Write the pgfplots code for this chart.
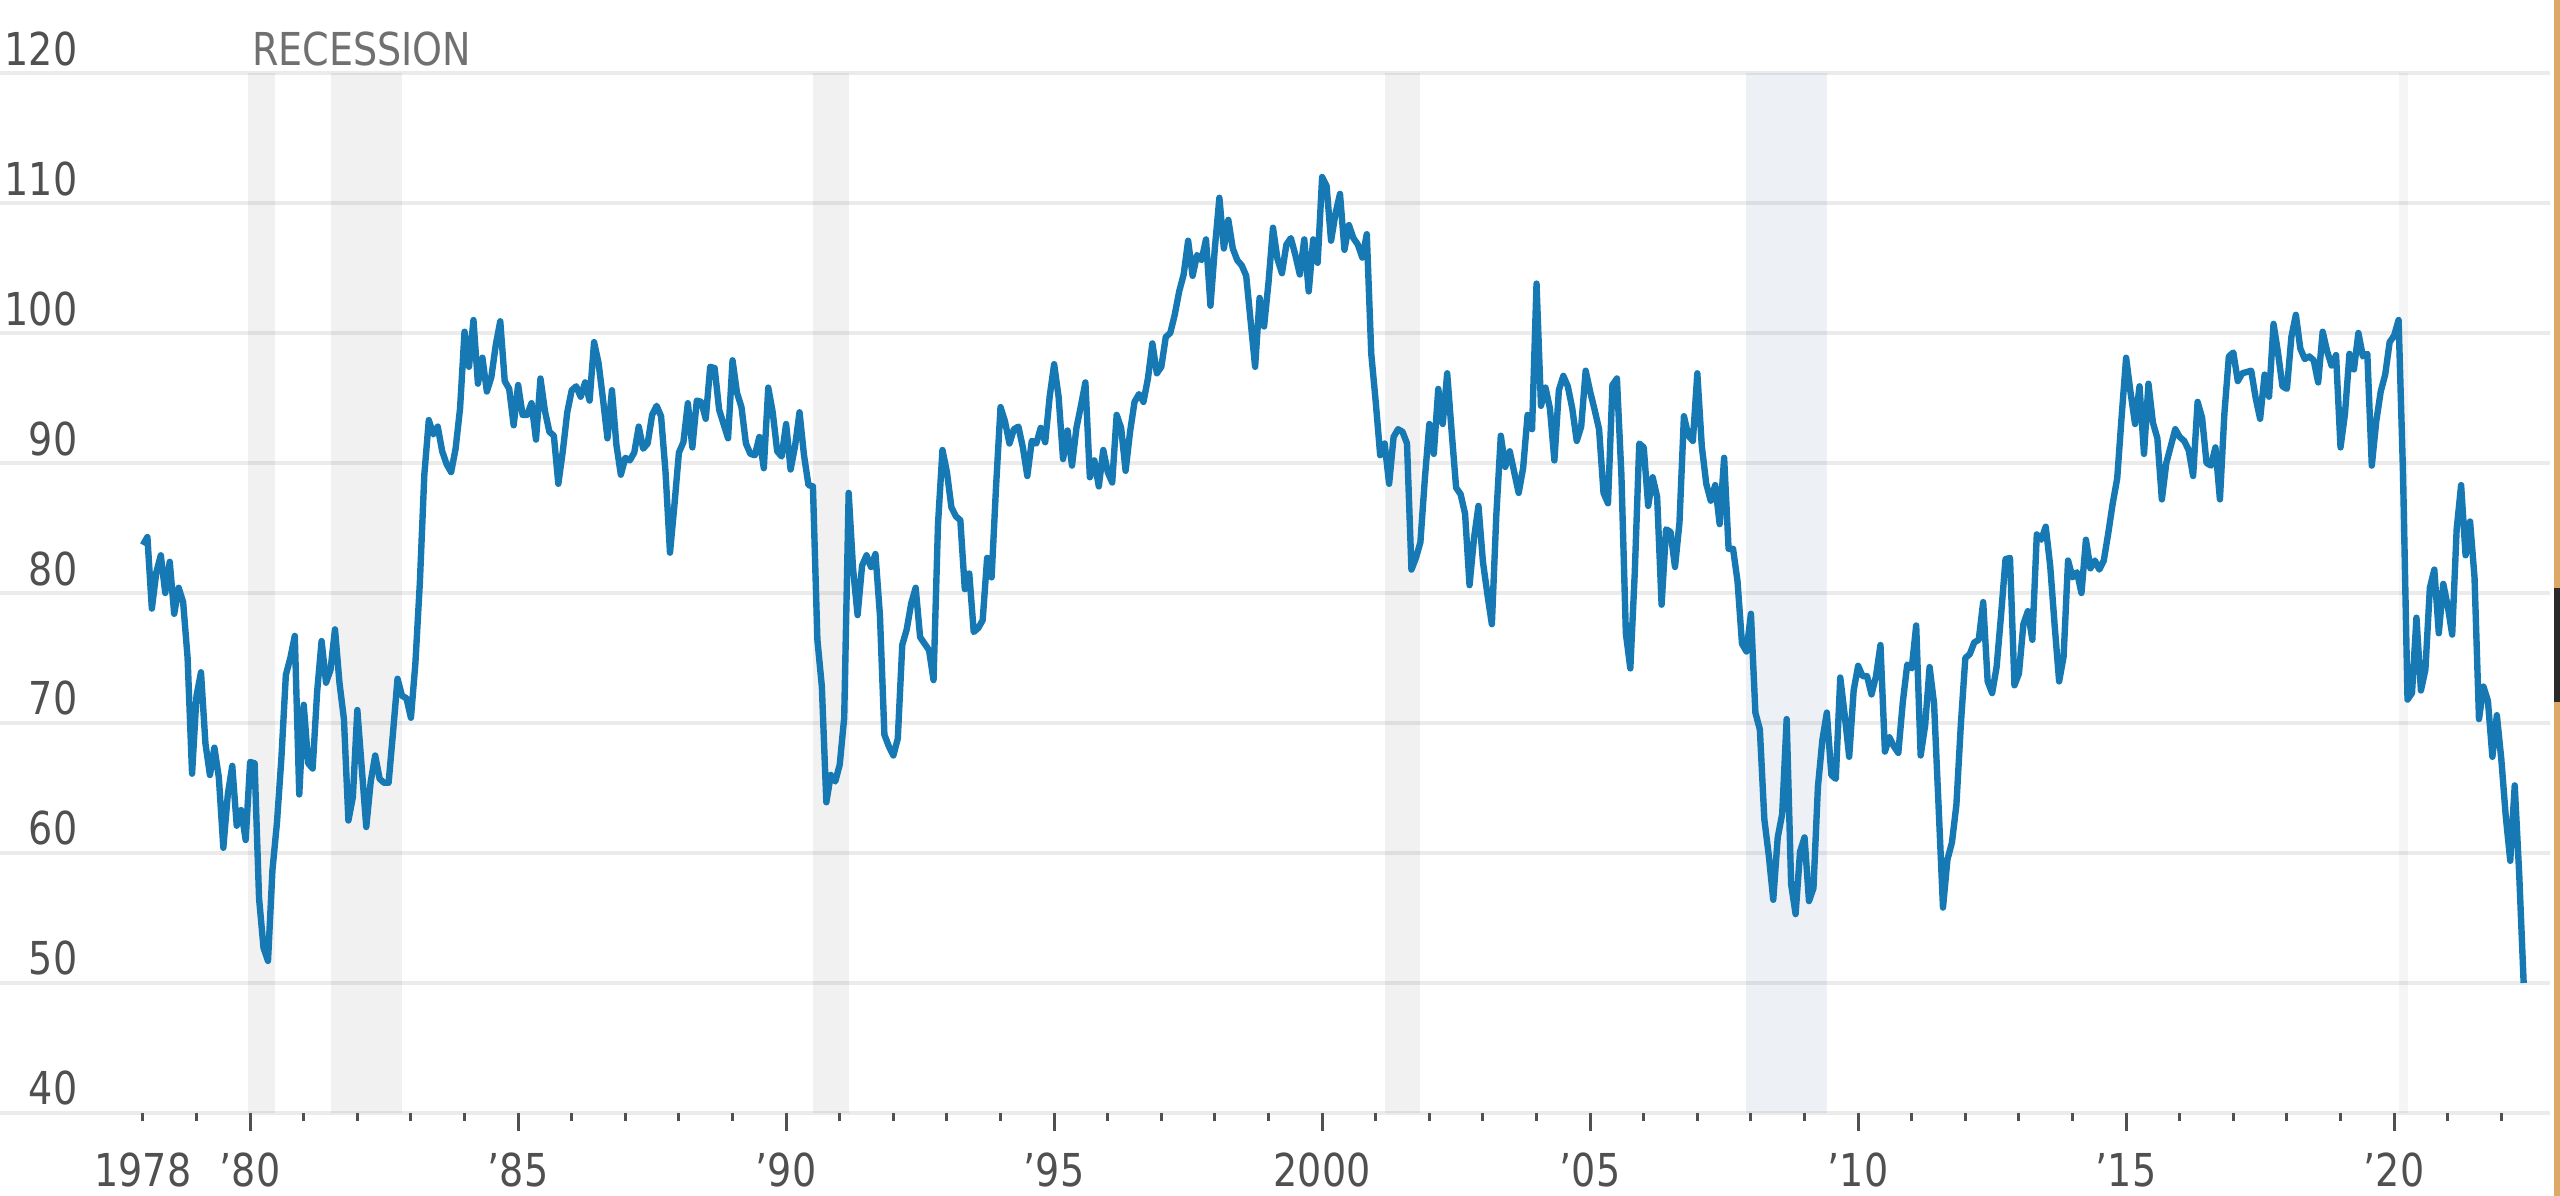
\documentclass[border=0pt]{standalone}
\usepackage{pgfplots}
\usepackage{pgfplotstable}
\pgfplotsset{compat=1.18}
\usepackage{fontspec}
\setmainfont{DejaVu Sans}[FakeStretch=0.84]
\definecolor{linecol}{HTML}{1679B4}
\definecolor{gridcol}{HTML}{EBEBEB}
\definecolor{shadeb}{HTML}{4B6991}
\definecolor{labcol}{HTML}{505050}
\definecolor{reccol}{HTML}{707070}
\definecolor{edgecol}{HTML}{DCAA66}
\definecolor{edgedark}{HTML}{2A2A2A}

% Monthly index of consumer sentiment, Jan 1978 -- Jun 2022 (x = months since Jan 1978)
\pgfplotstableread[row sep=\\]{
v\\
83.7\\ 84.3\\ 78.8\\ 81.6\\ 82.9\\ 80.0\\ 82.4\\ 78.4\\ 80.4\\ 79.3\\ 75.0\\ 66.1\\
72.1\\ 73.9\\ 68.4\\ 66.0\\ 68.1\\ 65.8\\ 60.4\\ 64.5\\ 66.7\\ 62.1\\ 63.3\\ 61.0\\
67.0\\ 66.9\\ 56.5\\ 52.7\\ 51.7\\ 58.7\\ 62.3\\ 67.3\\ 73.7\\ 75.0\\ 76.7\\ 64.5\\
71.4\\ 66.9\\ 66.5\\ 72.4\\ 76.3\\ 73.1\\ 74.1\\ 77.2\\ 73.1\\ 70.3\\ 62.5\\ 64.3\\
71.0\\ 66.5\\ 62.0\\ 65.5\\ 67.5\\ 65.7\\ 65.4\\ 65.4\\ 69.3\\ 73.4\\ 72.1\\ 71.9\\
70.4\\ 74.6\\ 80.8\\ 89.1\\ 93.3\\ 92.2\\ 92.8\\ 90.9\\ 89.9\\ 89.3\\ 91.1\\ 94.2\\
100.1\\ 97.4\\ 101.0\\ 96.1\\ 98.1\\ 95.5\\ 96.6\\ 99.1\\ 100.9\\ 96.3\\ 95.7\\ 92.9\\
96.0\\ 93.7\\ 93.7\\ 94.6\\ 91.8\\ 96.5\\ 94.0\\ 92.4\\ 92.1\\ 88.4\\ 90.9\\ 93.9\\
95.6\\ 95.9\\ 95.1\\ 96.2\\ 94.8\\ 99.3\\ 97.7\\ 94.9\\ 91.9\\ 95.6\\ 91.4\\ 89.1\\
90.4\\ 90.2\\ 90.8\\ 92.8\\ 91.1\\ 91.5\\ 93.7\\ 94.4\\ 93.6\\ 89.3\\ 83.1\\ 86.8\\
90.8\\ 91.6\\ 94.6\\ 91.2\\ 94.8\\ 94.7\\ 93.4\\ 97.4\\ 97.3\\ 94.1\\ 93.0\\ 91.9\\
97.9\\ 95.4\\ 94.3\\ 91.5\\ 90.7\\ 90.6\\ 92.0\\ 89.6\\ 95.8\\ 93.9\\ 90.9\\ 90.5\\
93.0\\ 89.5\\ 91.3\\ 93.9\\ 90.6\\ 88.3\\ 88.2\\ 76.4\\ 72.8\\ 63.9\\ 66.0\\ 65.5\\
66.8\\ 70.4\\ 87.7\\ 81.8\\ 78.3\\ 82.1\\ 82.9\\ 82.0\\ 83.0\\ 78.3\\ 69.1\\ 68.2\\
67.5\\ 68.8\\ 76.0\\ 77.2\\ 79.2\\ 80.4\\ 76.6\\ 76.1\\ 75.6\\ 73.3\\ 85.3\\ 91.0\\
89.3\\ 86.6\\ 85.9\\ 85.6\\ 80.3\\ 81.5\\ 77.0\\ 77.3\\ 77.9\\ 82.7\\ 81.2\\ 88.2\\
94.3\\ 93.2\\ 91.5\\ 92.6\\ 92.8\\ 91.2\\ 89.0\\ 91.7\\ 91.5\\ 92.7\\ 91.6\\ 95.1\\
97.6\\ 95.1\\ 90.3\\ 92.5\\ 89.8\\ 92.7\\ 94.4\\ 96.2\\ 88.9\\ 90.2\\ 88.2\\ 91.0\\
89.3\\ 88.5\\ 93.7\\ 92.7\\ 89.4\\ 92.4\\ 94.7\\ 95.3\\ 94.7\\ 96.5\\ 99.2\\ 96.9\\
97.4\\ 99.7\\ 100.0\\ 101.4\\ 103.2\\ 104.5\\ 107.1\\ 104.4\\ 106.0\\ 105.6\\ 107.2\\ 102.1\\
106.6\\ 110.4\\ 106.5\\ 108.7\\ 106.5\\ 105.6\\ 105.2\\ 104.4\\ 100.9\\ 97.4\\ 102.7\\ 100.5\\
103.9\\ 108.1\\ 105.7\\ 104.6\\ 106.8\\ 107.3\\ 106.0\\ 104.5\\ 107.2\\ 103.2\\ 107.2\\ 105.4\\
112.0\\ 111.3\\ 107.1\\ 109.2\\ 110.7\\ 106.4\\ 108.3\\ 107.3\\ 106.8\\ 105.8\\ 107.6\\ 98.4\\
94.7\\ 90.6\\ 91.5\\ 88.4\\ 92.0\\ 92.6\\ 92.4\\ 91.5\\ 81.8\\ 82.7\\ 83.9\\ 88.8\\
93.0\\ 90.7\\ 95.7\\ 93.0\\ 96.9\\ 92.4\\ 88.1\\ 87.6\\ 86.1\\ 80.6\\ 84.2\\ 86.7\\
82.4\\ 79.9\\ 77.6\\ 86.0\\ 92.1\\ 89.7\\ 90.9\\ 89.3\\ 87.7\\ 89.6\\ 93.7\\ 92.6\\
103.8\\ 94.4\\ 95.8\\ 94.2\\ 90.2\\ 95.6\\ 96.7\\ 95.9\\ 94.2\\ 91.7\\ 92.8\\ 97.1\\
95.5\\ 94.1\\ 92.6\\ 87.7\\ 86.9\\ 96.0\\ 96.5\\ 89.1\\ 76.9\\ 74.2\\ 81.6\\ 91.5\\
91.2\\ 86.7\\ 88.9\\ 87.4\\ 79.1\\ 84.9\\ 84.7\\ 82.0\\ 85.4\\ 93.6\\ 92.1\\ 91.7\\
96.9\\ 91.3\\ 88.4\\ 87.1\\ 88.3\\ 85.3\\ 90.4\\ 83.4\\ 83.4\\ 80.9\\ 76.1\\ 75.5\\
78.4\\ 70.8\\ 69.5\\ 62.6\\ 59.8\\ 56.4\\ 61.2\\ 63.0\\ 70.3\\ 57.6\\ 55.3\\ 60.1\\
61.2\\ 56.3\\ 57.3\\ 65.1\\ 68.7\\ 70.8\\ 66.0\\ 65.7\\ 73.5\\ 70.6\\ 67.4\\ 72.5\\
74.4\\ 73.6\\ 73.6\\ 72.2\\ 73.6\\ 76.0\\ 67.8\\ 68.9\\ 68.2\\ 67.7\\ 71.6\\ 74.5\\
74.2\\ 77.5\\ 67.5\\ 69.8\\ 74.3\\ 71.5\\ 63.7\\ 55.8\\ 59.5\\ 60.8\\ 63.7\\ 69.9\\
75.0\\ 75.3\\ 76.2\\ 76.4\\ 79.3\\ 73.2\\ 72.3\\ 74.3\\ 78.3\\ 82.6\\ 82.7\\ 72.9\\
73.8\\ 77.6\\ 78.6\\ 76.4\\ 84.5\\ 84.1\\ 85.1\\ 82.1\\ 77.5\\ 73.2\\ 75.1\\ 82.5\\
81.2\\ 81.6\\ 80.0\\ 84.1\\ 81.9\\ 82.5\\ 81.8\\ 82.5\\ 84.6\\ 86.9\\ 88.8\\ 93.6\\
98.1\\ 95.4\\ 93.0\\ 95.9\\ 90.7\\ 96.1\\ 93.1\\ 91.9\\ 87.2\\ 90.0\\ 91.3\\ 92.6\\
92.0\\ 91.7\\ 91.0\\ 89.0\\ 94.7\\ 93.5\\ 90.0\\ 89.8\\ 91.2\\ 87.2\\ 93.8\\ 98.2\\
98.5\\ 96.3\\ 96.9\\ 97.0\\ 97.1\\ 95.0\\ 93.4\\ 96.8\\ 95.1\\ 100.7\\ 98.5\\ 95.9\\
95.7\\ 99.7\\ 101.4\\ 98.8\\ 98.0\\ 98.2\\ 97.9\\ 96.2\\ 100.1\\ 98.6\\ 97.5\\ 98.3\\
91.2\\ 93.8\\ 98.4\\ 97.2\\ 100.0\\ 98.2\\ 98.4\\ 89.8\\ 93.2\\ 95.5\\ 96.8\\ 99.3\\
99.8\\ 101.0\\ 89.1\\ 71.8\\ 72.3\\ 78.1\\ 72.5\\ 74.1\\ 80.4\\ 81.8\\ 76.9\\ 80.7\\
79.0\\ 76.8\\ 84.9\\ 88.3\\ 82.9\\ 85.5\\ 81.2\\ 70.3\\ 72.8\\ 71.7\\ 67.4\\ 70.6\\
67.2\\ 62.8\\ 59.4\\ 65.2\\ 58.4\\ 50.0\\
}\sentiment

\begin{document}
\begin{tikzpicture}
\path[use as bounding box] (0,-0.83) rectangle (25.6,11.13);
\begin{axis}[
  at={(0,0)}, anchor=south west,
  scale only axis, width=25.50cm, height=10.40cm,
  xmin=-32.0, xmax=538.9, ymin=40, ymax=120,
  clip=false,
  axis line style={draw=none},
  ymajorgrids, grid style={gridcol, line width=0.035cm},
  ytick={40,50,...,120},
  ytick style={draw=none},
  xtick={24,84,...,504},
  xticklabels={'80,'85,'90,'95,2000,'05,'10,'15,'20},
  minor xtick={0,12,...,528},
  extra x ticks={0}, extra x tick labels={1978},
  extra x tick style={tick style={draw=none}},
  xtick pos=bottom, ytick pos=left,
  tick align=outside,
  major tick length=0.18cm, minor tick length=0.08cm,
  tick style={labcol, line width=0.03cm},
  /pgf/number format/assume math mode=true,
  tick label style={font=\fontsize{12.9}{15}\selectfont, text=labcol},
  yticklabel style={anchor=base east, inner sep=0pt, xshift=0.96cm, yshift=0.08cm},
  xticklabel style={anchor=base, inner sep=0pt, yshift=-0.56cm},
]
% recession bands
\addplot[fill=black, fill opacity=0.055, draw=none] coordinates {(23.5,40) (23.5,120) (29.5,120) (29.5,40)};
\addplot[fill=black, fill opacity=0.055, draw=none] coordinates {(42,40) (42,120) (58,120) (58,40)};
\addplot[fill=black, fill opacity=0.055, draw=none] coordinates {(150,40) (150,120) (158,120) (158,40)};
\addplot[fill=black, fill opacity=0.055, draw=none] coordinates {(278,40) (278,120) (286,120) (286,40)};
\addplot[fill=shadeb, fill opacity=0.1, draw=none] coordinates {(359,40) (359,120) (377,120) (377,40)};
\addplot[fill=black, fill opacity=0.04, draw=none] coordinates {(505,40) (505,120) (507,120) (507,40)};

\addplot[linecol, line width=0.064cm, line join=round, mark=none] table[x expr=\coordindex, y=v] {\sentiment};

\node[anchor=base west, inner sep=0pt, text=reccol, font=\fontsize{12.9}{15}\selectfont, yshift=0.08cm] at (axis cs:24.3,120) {RECESSION};
\end{axis}
% window frame at the right edge
\draw[edgecol, line width=0.06cm] (25.57,-0.83) -- (25.57,11.13);
\draw[edgedark, line width=0.06cm] (25.57,4.11) -- (25.57,5.25);
\end{tikzpicture}
\end{document}
